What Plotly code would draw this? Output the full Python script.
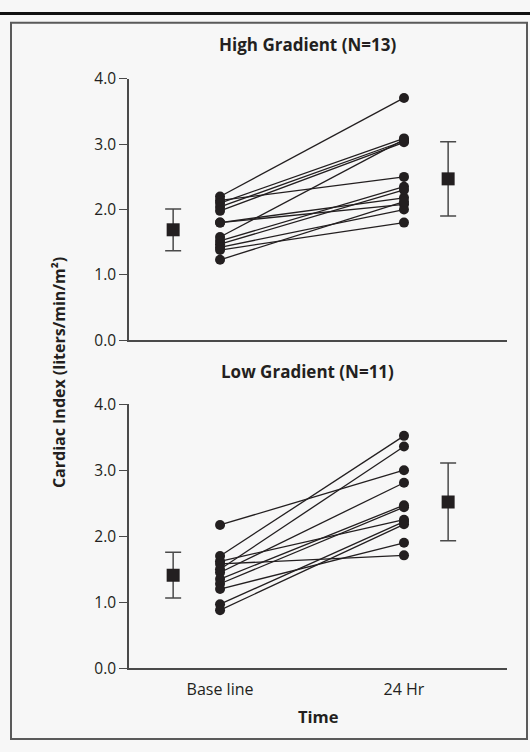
import plotly.graph_objects as go

W, H = 530, 752

# ---- data ----
time_labels = ["Base line", "24 Hr"]
time_pos = [1, 2]

high_baseline = [2.20, 2.14, 2.10, 2.04, 1.98, 1.80, 1.80, 1.58, 1.52, 1.47, 1.42, 1.38, 1.23]
high_24hr     = [3.71, 2.50, 3.09, 3.05, 3.03, 2.08, 2.18, 3.07, 2.35, 2.30, 2.00, 1.80, 2.12]
high_mean = [1.69, 2.47]
high_sd   = [0.32, 0.57]

low_baseline = [2.17, 1.70, 1.62, 1.58, 1.50, 1.45, 1.35, 1.28, 1.20, 0.97, 0.88]
low_24hr     = [3.00, 3.52, 2.25, 1.71, 3.36, 2.81, 2.47, 2.44, 1.90, 2.22, 2.18]
low_mean = [1.41, 2.52]
low_sd   = [0.345, 0.59]

mean_offset = [-0.255, 0.24]

panel_titles = ["High Gradient (N=13)", "Low Gradient (N=11)"]
y_ticks = [0, 1, 2, 3, 4]

INK = "#231f20"
AX = "#4a4a4a"
BG = "#f7f7f7"
FONT = "Open Sans"


def px(x):
    return x / W


def py(y):
    return 1 - y / H


fig = go.Figure()

panels = [
    (high_baseline, high_24hr, high_mean, high_sd, "x", "y"),
    (low_baseline, low_24hr, low_mean, low_sd, "x2", "y2"),
]

for base, after, mean, sd, xa, ya in panels:
    for b, a in zip(base, after):
        fig.add_trace(go.Scatter(
            x=time_pos, y=[b, a], xaxis=xa, yaxis=ya, mode="lines+markers",
            line=dict(color=INK, width=1.3),
            marker=dict(color=INK, size=10),
            showlegend=False, hoverinfo="skip"))
    fig.add_trace(go.Scatter(
        x=[t + o for t, o in zip(time_pos, mean_offset)], y=mean,
        xaxis=xa, yaxis=ya, mode="markers",
        marker=dict(symbol="square", color=INK, size=13),
        error_y=dict(type="data", array=sd, visible=True, color=AX,
                     thickness=1.5, width=8),
        showlegend=False, hoverinfo="skip"))

xdom = [px(129), px(507)]
xrange = [0.505, 2.56]
common_y = dict(range=[0, 4], tickvals=y_ticks, tickformat=".1f",
                showline=True, linecolor=AX, linewidth=1.5,
                ticks="outside", ticklen=8, tickwidth=1.3, tickcolor=AX,
                showgrid=False, zeroline=False,
                tickfont=dict(family=FONT, size=15.5, color=INK))

fig.update_layout(
    width=W, height=H,
    margin=dict(l=0, r=0, t=0, b=0),
    paper_bgcolor=BG, plot_bgcolor=BG,
    xaxis=dict(domain=xdom, range=xrange, anchor="y", showline=True,
               linecolor=AX, linewidth=1.5, showticklabels=False,
               ticks="", showgrid=False, zeroline=False),
    yaxis=dict(domain=[py(338), py(69)], anchor="x", **common_y),
    xaxis2=dict(domain=xdom, range=xrange, anchor="y2", showline=True,
                linecolor=AX, linewidth=1.5, tickvals=time_pos,
                ticktext=time_labels, ticks="", showgrid=False,
                zeroline=False, ticklabelstandoff=6,
                tickfont=dict(family=FONT, size=16, color=INK)),
    yaxis2=dict(domain=[py(676), py(404)], anchor="x2", **common_y),
    shapes=[
        dict(type="line", xref="paper", yref="paper", x0=0, x1=1,
             y0=py(1.5), y1=py(1.5), line=dict(color="#111", width=3)),
        dict(type="rect", xref="paper", yref="paper", x0=px(11), x1=px(527),
             y0=py(749), y1=py(11), line=dict(color="#5a5a5a", width=2)),
    ],
    annotations=[
        dict(text="<b>" + panel_titles[0] + "</b>", xref="paper", yref="paper",
             x=px(307), y=py(33), showarrow=False, xanchor="center",
             yanchor="middle", font=dict(family=FONT, size=17, color=INK)),
        dict(text="<b>" + panel_titles[1] + "</b>", xref="paper", yref="paper",
             x=px(307), y=py(370), showarrow=False, xanchor="center",
             yanchor="middle", font=dict(family=FONT, size=17, color=INK)),
        dict(text="<b>Cardiac Index (liters/min/m²)</b>", xref="paper",
             yref="paper", x=px(59), y=py(372), showarrow=False,
             textangle=-90, xanchor="center", yanchor="middle",
             font=dict(family=FONT, size=16, color=INK)),
        dict(text="<b>Time</b>", xref="paper", yref="paper",
             x=px(318), y=py(726), showarrow=False, xanchor="center",
             yanchor="middle", font=dict(family=FONT, size=16.5, color=INK)),
    ],
)

fig.write_html("out.html")
